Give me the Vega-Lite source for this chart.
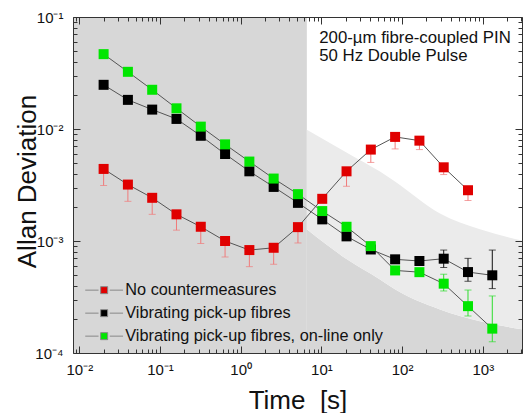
{
  "$schema": "https://vega.github.io/schema/vega-lite/v6.json",
  "width": 449,
  "height": 336,
  "autosize": "none",
  "padding": {"left": 73, "top": 17, "right": 7, "bottom": 60},
  "background": "white",
  "config": {"font": "Liberation Sans", "view": {"stroke": null}},
  "datasets": {
    "shade": [{"x": 0.00835, "x2": 6.6, "y": 0.0001, "y2": 0.1}],
    "band": [
      {"x": 6.6, "lo": 0.00127, "hi": 0.00986},
      {"x": 20.7, "lo": 0.000686, "hi": 0.00615},
      {"x": 53.2, "lo": 0.000454, "hi": 0.00417},
      {"x": 81.6, "lo": 0.00037, "hi": 0.0034},
      {"x": 295, "lo": 0.000245, "hi": 0.00176},
      {"x": 923, "lo": 0.000192, "hi": 0.00127},
      {"x": 3060, "lo": 0.000163, "hi": 0.00101}
    ],
    "notes": [
      {"x": 9.4, "y": 0.0587, "t": "200-µm fibre-coupled PIN"},
      {"x": 9.4, "y": 0.0401, "t": "50 Hz Double Pulse"}
    ],
    "pts": [
      {"s": "No countermeasures", "x": 0.02, "y": 0.0044, "lo": 0.00313, "hi": 0.0044},
      {"s": "No countermeasures", "x": 0.04, "y": 0.00319, "lo": 0.00226, "hi": 0.00319},
      {"s": "No countermeasures", "x": 0.08, "y": 0.00243, "lo": 0.00173, "hi": 0.00243},
      {"s": "No countermeasures", "x": 0.16, "y": 0.00173, "lo": 0.00125, "hi": 0.00173},
      {"s": "No countermeasures", "x": 0.32, "y": 0.00134, "lo": 0.00095, "hi": 0.00134},
      {"s": "No countermeasures", "x": 0.64, "y": 0.001, "lo": 0.00072, "hi": 0.001},
      {"s": "No countermeasures", "x": 1.28, "y": 0.00083, "lo": 0.00059, "hi": 0.00083},
      {"s": "No countermeasures", "x": 2.56, "y": 0.00087, "lo": 0.00062, "hi": 0.00087},
      {"s": "No countermeasures", "x": 5.12, "y": 0.00133, "lo": 0.00096, "hi": 0.00133},
      {"s": "No countermeasures", "x": 10.24, "y": 0.00238, "lo": 0.0022, "hi": 0.00238},
      {"s": "No countermeasures", "x": 20.48, "y": 0.00419, "lo": 0.00308, "hi": 0.00419},
      {"s": "No countermeasures", "x": 40.96, "y": 0.00655, "lo": 0.00503, "hi": 0.00655},
      {"s": "No countermeasures", "x": 81.92, "y": 0.0085, "lo": 0.00664, "hi": 0.0085},
      {"s": "No countermeasures", "x": 163.84, "y": 0.00787, "lo": 0.00655, "hi": 0.00787},
      {"s": "No countermeasures", "x": 327.68, "y": 0.00455, "lo": 0.00392, "hi": 0.00455},
      {"s": "No countermeasures", "x": 655.36, "y": 0.00284, "lo": 0.0023, "hi": 0.00284},
      {"s": "Vibrating pick-up fibres", "x": 0.02, "y": 0.0248, "lo": 0.0248, "hi": 0.0248},
      {"s": "Vibrating pick-up fibres", "x": 0.04, "y": 0.0182, "lo": 0.0182, "hi": 0.0182},
      {"s": "Vibrating pick-up fibres", "x": 0.08, "y": 0.0149, "lo": 0.0149, "hi": 0.0149},
      {"s": "Vibrating pick-up fibres", "x": 0.16, "y": 0.0123, "lo": 0.0123, "hi": 0.0123},
      {"s": "Vibrating pick-up fibres", "x": 0.32, "y": 0.0087, "lo": 0.0087, "hi": 0.0087},
      {"s": "Vibrating pick-up fibres", "x": 0.64, "y": 0.00598, "lo": 0.00598, "hi": 0.00598},
      {"s": "Vibrating pick-up fibres", "x": 1.28, "y": 0.00419, "lo": 0.00419, "hi": 0.00419},
      {"s": "Vibrating pick-up fibres", "x": 2.56, "y": 0.00304, "lo": 0.00304, "hi": 0.00304},
      {"s": "Vibrating pick-up fibres", "x": 5.12, "y": 0.00219, "lo": 0.00219, "hi": 0.00219},
      {"s": "Vibrating pick-up fibres", "x": 10.24, "y": 0.00156, "lo": 0.00156, "hi": 0.00156},
      {"s": "Vibrating pick-up fibres", "x": 20.48, "y": 0.0011, "lo": 0.0011, "hi": 0.0011},
      {"s": "Vibrating pick-up fibres", "x": 40.96, "y": 0.00084, "lo": 0.00084, "hi": 0.00084},
      {"s": "Vibrating pick-up fibres", "x": 81.92, "y": 0.000686, "lo": 0.00064, "hi": 0.00074},
      {"s": "Vibrating pick-up fibres", "x": 163.84, "y": 0.000663, "lo": 0.00061, "hi": 0.00072},
      {"s": "Vibrating pick-up fibres", "x": 327.68, "y": 0.000695, "lo": 0.00058, "hi": 0.00083},
      {"s": "Vibrating pick-up fibres", "x": 655.36, "y": 0.000528, "lo": 0.000437, "hi": 0.0007},
      {"s": "Vibrating pick-up fibres", "x": 1310.72, "y": 0.000494, "lo": 0.000376, "hi": 0.00083},
      {"s": "Vibrating pick-up fibres, on-line only", "x": 0.02, "y": 0.0466, "lo": 0.0466, "hi": 0.0466},
      {"s": "Vibrating pick-up fibres, on-line only", "x": 0.04, "y": 0.0324, "lo": 0.0324, "hi": 0.0324},
      {"s": "Vibrating pick-up fibres, on-line only", "x": 0.08, "y": 0.0224, "lo": 0.0224, "hi": 0.0224},
      {"s": "Vibrating pick-up fibres, on-line only", "x": 0.16, "y": 0.0153, "lo": 0.0153, "hi": 0.0153},
      {"s": "Vibrating pick-up fibres, on-line only", "x": 0.32, "y": 0.0105, "lo": 0.0105, "hi": 0.0105},
      {"s": "Vibrating pick-up fibres, on-line only", "x": 0.64, "y": 0.00729, "lo": 0.00729, "hi": 0.00729},
      {"s": "Vibrating pick-up fibres, on-line only", "x": 1.28, "y": 0.00512, "lo": 0.00512, "hi": 0.00512},
      {"s": "Vibrating pick-up fibres, on-line only", "x": 2.56, "y": 0.00361, "lo": 0.00361, "hi": 0.00361},
      {"s": "Vibrating pick-up fibres, on-line only", "x": 5.12, "y": 0.00262, "lo": 0.00262, "hi": 0.00262},
      {"s": "Vibrating pick-up fibres, on-line only", "x": 10.24, "y": 0.00185, "lo": 0.00185, "hi": 0.00185},
      {"s": "Vibrating pick-up fibres, on-line only", "x": 20.48, "y": 0.00134, "lo": 0.00134, "hi": 0.00134},
      {"s": "Vibrating pick-up fibres, on-line only", "x": 40.96, "y": 0.0009, "lo": 0.0009, "hi": 0.0009},
      {"s": "Vibrating pick-up fibres, on-line only", "x": 81.92, "y": 0.000546, "lo": 0.000546, "hi": 0.000546},
      {"s": "Vibrating pick-up fibres, on-line only", "x": 163.84, "y": 0.000527, "lo": 0.000527, "hi": 0.000527},
      {"s": "Vibrating pick-up fibres, on-line only", "x": 327.68, "y": 0.000416, "lo": 0.000358, "hi": 0.000505},
      {"s": "Vibrating pick-up fibres, on-line only", "x": 655.36, "y": 0.000262, "lo": 0.000214, "hi": 0.000365},
      {"s": "Vibrating pick-up fibres, on-line only", "x": 1310.72, "y": 0.000165, "lo": 0.000126, "hi": 0.000323}
    ]
  },
  "resolve": {"axis": {"x": "independent", "y": "independent"}, "scale": {"color": "independent"}},
  "layer": [
    {
      "data": {"name": "shade"},
      "mark": {"type": "rect", "color": "#d7d7d7", "clip": true},
      "encoding": {
        "x": {"field": "x", "type": "quantitative", "scale": {"type": "log", "domain": [0.00835, 3060], "nice": false},
          "axis": {"orient": "top", "values": [0.009,0.01,0.02,0.03,0.04,0.05,0.06,0.07,0.08,0.09,0.1,0.2,0.3,0.4,0.5,0.6,0.7,0.8,0.9,1,2,3,4,5,6,7,8,9,10,20,30,40,50,60,70,80,90,100,200,300,400,500,600,700,800,900,1000,2000,3000],
            "labels": false, "title": null, "grid": false, "zindex": 1, "domainColor": "#333", "tickColor": "#333",
            "tickSize": {"condition": {"test": "abs(log(datum.value)/LN10 - round(log(datum.value)/LN10)) < 0.01", "value": -7}, "value": -4}}},
        "x2": {"field": "x2"},
        "y": {"field": "y", "type": "quantitative", "scale": {"type": "log", "domain": [0.0001, 0.1], "nice": false},
          "axis": {"orient": "right", "values": [0.0001,0.0002,0.0003,0.0004,0.0005,0.0006,0.0007,0.0008,0.0009,0.001,0.002,0.003,0.004,0.005,0.006,0.007,0.008,0.009,0.01,0.02,0.03,0.04,0.05,0.06,0.07,0.08,0.09,0.1],
            "labels": false, "title": null, "grid": false, "zindex": 1, "domainColor": "#333", "tickColor": "#333",
            "tickSize": {"condition": {"test": "abs(log(datum.value)/LN10 - round(log(datum.value)/LN10)) < 0.01", "value": -7}, "value": -4}}},
        "y2": {"field": "y2"}
      }
    },
    {
      "data": {"name": "band"},
      "mark": {"type": "area", "color": "#d7d7d7", "interpolate": "monotone", "clip": true},
      "encoding": {
        "x": {"field": "x", "type": "quantitative", "axis": null},
        "y": {"field": "lo", "type": "quantitative", "axis": null},
        "y2": {"datum": 0.0001}
      }
    },
    {
      "data": {"name": "band"},
      "mark": {"type": "area", "color": "#ebebeb", "interpolate": "monotone", "clip": true},
      "encoding": {
        "x": {"field": "x", "type": "quantitative", "axis": null},
        "y": {"field": "hi", "type": "quantitative", "axis": null},
        "y2": {"field": "lo"}
      }
    },
    {
      "data": {"name": "pts"},
      "mark": {"type": "line", "color": "#555", "strokeWidth": 1},
      "encoding": {
        "x": {"field": "x", "type": "quantitative", "axis": null},
        "y": {"field": "y", "type": "quantitative", "axis": null},
        "detail": {"field": "s"},
        "order": {"field": "x", "type": "quantitative"}
      }
    },
    {
      "data": {"name": "pts"},
      "mark": {"type": "rule", "strokeWidth": 1},
      "encoding": {
        "x": {"field": "x", "type": "quantitative", "axis": null},
        "y": {"field": "lo", "type": "quantitative", "axis": null},
        "y2": {"field": "hi"},
        "color": {"field": "s", "type": "nominal", "legend": null,
          "scale": {"domain": ["No countermeasures", "Vibrating pick-up fibres", "Vibrating pick-up fibres, on-line only"], "range": ["#f07a7a", "#111111", "#2ddd2d"]}}
      }
    },
    {
      "data": {"name": "pts"},
      "mark": {"type": "tick", "orient": "horizontal", "size": 7, "thickness": 1},
      "encoding": {
        "x": {"field": "x", "type": "quantitative", "axis": null},
        "y": {"field": "lo", "type": "quantitative", "axis": null},
        "color": {"field": "s", "type": "nominal", "legend": null,
          "scale": {"domain": ["No countermeasures", "Vibrating pick-up fibres", "Vibrating pick-up fibres, on-line only"], "range": ["#f07a7a", "#111111", "#2ddd2d"]}}
      }
    },
    {
      "data": {"name": "pts"},
      "mark": {"type": "tick", "orient": "horizontal", "size": 7, "thickness": 1},
      "encoding": {
        "x": {"field": "x", "type": "quantitative", "axis": null},
        "y": {"field": "hi", "type": "quantitative", "axis": null},
        "color": {"field": "s", "type": "nominal", "legend": null,
          "scale": {"domain": ["No countermeasures", "Vibrating pick-up fibres", "Vibrating pick-up fibres, on-line only"], "range": ["#f07a7a", "#111111", "#2ddd2d"]}}
      }
    },
    {
      "data": {"name": "pts"},
      "mark": {"type": "square", "size": 100, "opacity": 1, "filled": true, "strokeWidth": 0},
      "encoding": {
        "x": {"field": "x", "type": "quantitative",
          "axis": {"orient": "bottom", "values": [0.009,0.01,0.02,0.03,0.04,0.05,0.06,0.07,0.08,0.09,0.1,0.2,0.3,0.4,0.5,0.6,0.7,0.8,0.9,1,2,3,4,5,6,7,8,9,10,20,30,40,50,60,70,80,90,100,200,300,400,500,600,700,800,900,1000,2000,3000],
            "labelExpr": "abs(log(datum.value)/LN10 - round(log(datum.value)/LN10)) < 0.01 ? ['10⁻⁴','10⁻³','10⁻²','10⁻¹','10⁰','10¹','10²','10³'][round(log(datum.value)/LN10)+4] : ''",
            "labelFontSize": 15, "labelColor": "#111", "labelPadding": 16, "labelFlush": false, "labelOverlap": false, "labelBaseline": "top",
            "grid": false, "zindex": 1, "domainColor": "#333", "tickColor": "#333",
            "tickSize": {"condition": {"test": "abs(log(datum.value)/LN10 - round(log(datum.value)/LN10)) < 0.01", "value": -7}, "value": -4},
            "title": "Time\u00a0\u00a0[s]", "titleFontSize": 26, "titleFontWeight": "normal", "titleColor": "#111", "titleX": 224.5, "titleY": 55, "titleBaseline": "alphabetic", "titleAlign": "center"}},
        "y": {"field": "y", "type": "quantitative",
          "axis": {"orient": "left", "values": [0.0001,0.0002,0.0003,0.0004,0.0005,0.0006,0.0007,0.0008,0.0009,0.001,0.002,0.003,0.004,0.005,0.006,0.007,0.008,0.009,0.01,0.02,0.03,0.04,0.05,0.06,0.07,0.08,0.09,0.1],
            "labelExpr": "abs(log(datum.value)/LN10 - round(log(datum.value)/LN10)) < 0.01 ? ['10⁻⁴','10⁻³','10⁻²','10⁻¹','10⁰','10¹','10²','10³'][round(log(datum.value)/LN10)+4] : ''",
            "labelFontSize": 15, "labelColor": "#111", "labelPadding": 17, "labelFlush": false, "labelOverlap": false,
            "grid": false, "zindex": 1, "domainColor": "#333", "tickColor": "#333",
            "tickSize": {"condition": {"test": "abs(log(datum.value)/LN10 - round(log(datum.value)/LN10)) < 0.01", "value": -7}, "value": -4},
            "title": "Allan Deviation", "titleFontSize": 26, "titleFontWeight": "normal", "titleColor": "#111", "titleX": -38, "titleY": 164, "titleBaseline": "alphabetic", "titleAlign": "center", "titleAngle": -90}},
        "color": {"field": "s", "type": "nominal", "title": null,
          "scale": {"domain": ["No countermeasures", "Vibrating pick-up fibres", "Vibrating pick-up fibres, on-line only"], "range": ["#e00000", "#000000", "#00e600"]},
          "legend": {"orient": "none", "legendX": 23, "legendY": 265, "padding": 0,
            "symbolType": "M-5.4,0H-1.6M1.6,0H5.4M-1,-1H1V1H-1Z", "symbolSize": 49, "symbolStrokeColor": "#888", "symbolStrokeWidth": 1, "symbolOpacity": 1,
            "labelFontSize": 16.3, "labelColor": "#111", "labelOffset": 13, "rowPadding": 6, "labelLimit": 400}}
      }
    },
    {
      "data": {"name": "notes"},
      "mark": {"type": "text", "align": "left", "baseline": "alphabetic", "fontSize": 16.8, "color": "#111"},
      "encoding": {
        "x": {"field": "x", "type": "quantitative", "axis": null},
        "y": {"field": "y", "type": "quantitative", "axis": null},
        "text": {"field": "t"}
      }
    }
  ]
}
